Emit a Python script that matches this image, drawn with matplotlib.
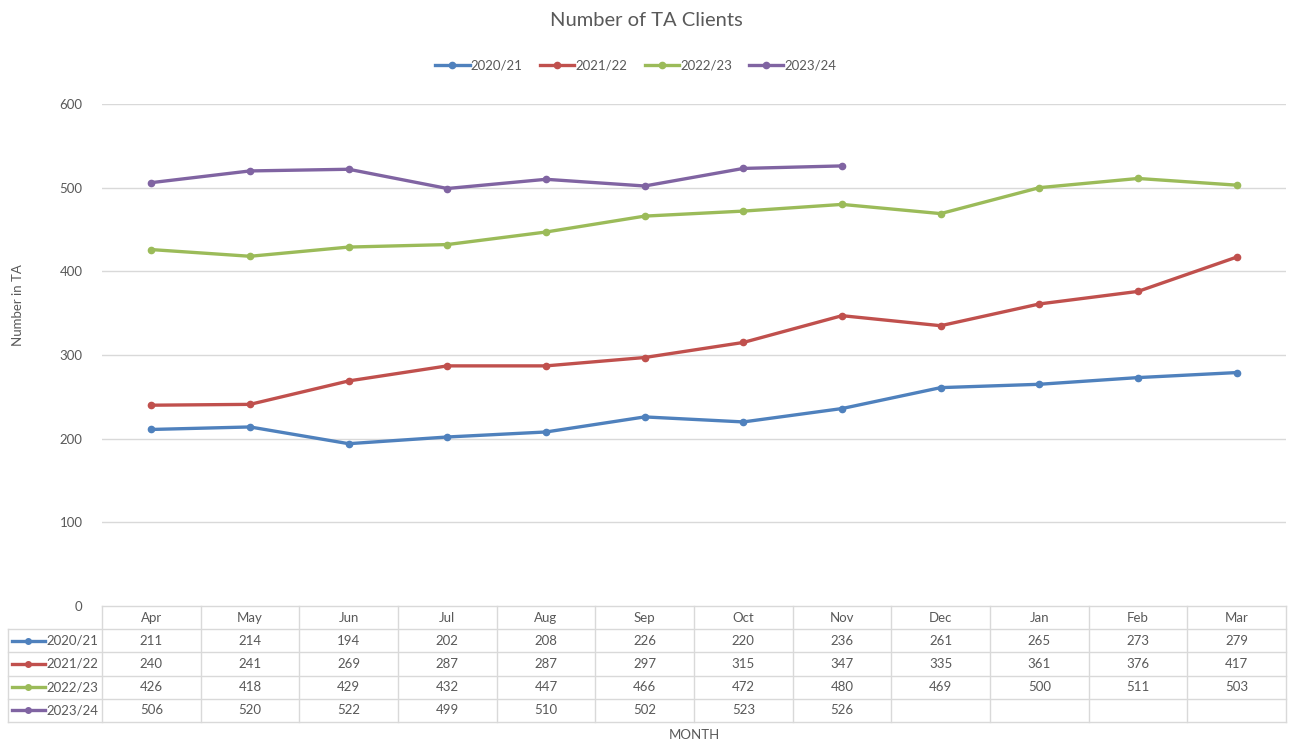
import matplotlib.pyplot as plt
from matplotlib.lines import Line2D
import numpy as np

plt.rcParams['font.family'] = ['Lato', 'DejaVu Sans']

months = ['Apr', 'May', 'Jun', 'Jul', 'Aug', 'Sep', 'Oct', 'Nov', 'Dec', 'Jan', 'Feb', 'Mar']
series_names = ['2020/21', '2021/22', '2022/23', '2023/24']
fy2020 = [211, 214, 194, 202, 208, 226, 220, 236, 261, 265, 273, 279]
fy2021 = [240, 241, 269, 287, 287, 297, 315, 347, 335, 361, 376, 417]
fy2022 = [426, 418, 429, 432, 447, 466, 472, 480, 469, 500, 511, 503]
fy2023 = [506, 520, 522, 499, 510, 502, 523, 526]
yticks = [0, 100, 200, 300, 400, 500, 600]

colors = ['#4F81BD', '#C0504D', '#9BBB59', '#8064A2']
text_col = '#595959'
grid_col = '#D9D9D9'
W, H = 1291, 742

fig = plt.figure(figsize=(W / 100, H / 100), dpi=100)

# main plot area (pixel geometry)
x0, x1, ytop, ybot = 102, 1286, 104, 606
ax = fig.add_axes([x0 / W, 1 - ybot / H, (x1 - x0) / W, (ybot - ytop) / H])
ax.set_xlim(-0.5, 11.5)
ax.set_ylim(0, 600)
for s in ax.spines.values():
    s.set_visible(False)
for y in yticks[1:]:
    ax.axhline(y, color=grid_col, lw=1, zorder=0)
ax.set_xticks([])
ax.set_yticks(yticks)
ax.tick_params(axis='y', length=0, pad=14, labelsize=9.5, labelcolor=text_col)

all_series = [fy2020, fy2021, fy2022, fy2023]
for vals, name, c in zip(all_series, series_names, colors):
    ax.plot(np.arange(len(vals)), vals, color=c, lw=2.4, marker='o', ms=4.5,
            label=name, solid_capstyle='round')

fig.text(646 / W, 1 - 20 / H, 'Number of TA Clients', ha='center', va='center',
         fontsize=14.5, color=text_col)
fig.text(18 / W, 1 - 305 / H, 'Number in TA', rotation=90, ha='center', va='center',
         fontsize=9.5, color=text_col)
fig.text(694 / W, 1 - 735 / H, 'MONTH', ha='center', va='center',
         fontsize=9.5, color=text_col)

handles = [Line2D([0], [0], color=c, lw=2.4, marker='o', ms=4.5) for c in colors]
fig.legend(handles, series_names, loc='center', bbox_to_anchor=(636 / W, 1 - 66 / H),
           ncol=4, frameon=False, fontsize=9.5, labelcolor=text_col,
           handlelength=2.6, handletextpad=0.1, columnspacing=1.3)

# data table below the axis
colw = (x1 - x0) / 12
tl, tt, tb = 8, 606, 722
tax = fig.add_axes([tl / W, 1 - tb / H, (x1 - tl) / W, (tb - tt) / H])
tax.set_xlim(-0.5 - (x0 - tl) / colw, 11.5)
tax.set_ylim(5, 0)
tax.axis('off')
left = -0.5 - (x0 - tl) / colw

lc = dict(color=grid_col, lw=1, clip_on=False)
# horizontal lines
tax.plot([-0.5, 11.5], [0, 0], **lc)
for r in range(1, 6):
    tax.plot([left, 11.5], [r, r], **lc)
# vertical lines
tax.plot([left, left], [1, 5], **lc)
for i in range(13):
    tax.plot([i - 0.5, i - 0.5], [0, 5], **lc)

for i, m in enumerate(months):
    tax.text(i, 0.5, m, ha='center', va='center', fontsize=9.5, color=text_col)
for r, (vals, name, c) in enumerate(zip(all_series, series_names, colors), start=1):
    for i, v in enumerate(vals):
        tax.text(i, r + 0.5, str(v), ha='center', va='center', fontsize=9.5, color=text_col)
    tax.plot([left + 0.04, left + 0.37], [r + 0.5, r + 0.5], color=c, lw=2.4, clip_on=False)
    tax.plot([left + 0.205], [r + 0.5], color=c, marker='o', ms=4, clip_on=False)
    tax.text(left + 0.39, r + 0.5, name, ha='left', va='center', fontsize=9.5, color=text_col)

fig.savefig('out.png', dpi=100)
